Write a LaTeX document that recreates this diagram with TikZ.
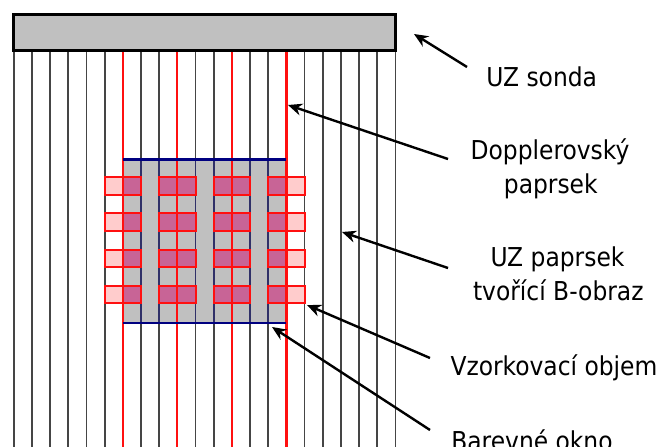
\documentclass[tikz,border=0pt]{standalone}
\usepackage{fontspec}
\setmainfont{DejaVu Sans Condensed}
\usetikzlibrary{arrows.meta}
\definecolor{probegray}{HTML}{C0C0C0}
\definecolor{linegray}{HTML}{454545}
\definecolor{winnavy}{HTML}{000080}
\definecolor{winline}{HTML}{303068}
\definecolor{svdark}{HTML}{C86496}
\definecolor{svlight}{HTML}{FFCCCC}
\definecolor{beamred}{HTML}{FF1010}
\tikzset{
  bline/.style={draw=linegray, line width=1.8pt},
  dline/.style={draw=beamred, line width=2.2pt},
  svbox/.style={draw=beamred, line width=2pt},
  pointer/.style={draw=black, line width=2.4pt, -{Stealth[length=14pt,width=12pt]}},
  lbl/.style={anchor=base, inner sep=0pt, font=\fontsize{26}{34}\selectfont}
}
\begin{document}
\begin{tikzpicture}[x=1pt,y=-1pt]
\useasboundingbox (0,0) rectangle (667,447);
\clip (0,0) rectangle (667,447);
\fill[white] (0,0) rectangle (667,447);
% colour window background
\fill[probegray] (122.8,159.3) rectangle (286.3,322.7);
% B-mode beams
\foreach \i in {0,...,21}{
  \draw[bline] ({13.7+18.18*\i},51) -- ({13.7+18.18*\i},447);
}
\foreach \i in {7,8,10,11,13,14}{
  \draw[draw=winline, line width=1.8pt] ({13.7+18.18*\i},159.3) -- ({13.7+18.18*\i},322.7);
}
% sample volumes
\foreach \k in {0,1,2,3}{
  \foreach \c/\col in {5/svlight,6/svdark,8/svdark,9/svdark,11/svdark,12/svdark,14/svdark,15/svlight}{
    \filldraw[svbox, fill=\col] ({13.7+18.18*\c},{177.3+36.1*\k}) rectangle ({13.7+18.18*(\c+1)},{195.1+36.1*\k});
  }
}
% Doppler beams
\foreach \i in {6,9,12,15}{
  \draw[dline] ({13.7+18.18*\i},51) -- ({13.7+18.18*\i},447);
}
% window top/bottom borders
\draw[draw=winnavy, line width=2.4pt] (122.8,159.3) -- (286.3,159.3);
\draw[draw=winnavy, line width=2.4pt] (122.8,322.7) -- (286.3,322.7);
% probe
\node[draw=black, line width=3.2pt, fill=probegray, minimum width=382pt, minimum height=36pt, inner sep=0pt] (probe) at (204.5,32.5) {};
% labels
\node[lbl] (sonda) at (541.7,86) {UZ sonda};
\node[lbl] (dop1) at (550,159.3) {Dopplerovský};
\node[lbl] (dop2) at (550.8,193) {paprsek};
\node[lbl] (uz1) at (557.5,266) {UZ paprsek};
\node[lbl] (uz2) at (558.3,300) {tvořící B-obraz};
\node[lbl] (vzor) at (554,375) {Vzorkovací objem};
\node[lbl] (bar) at (532,450) {Barevné okno};
% arrow ends
\coordinate (tSonda) at (414,34);   \coordinate (sSonda) at (467,67);
\coordinate (tDop) at (288,105);    \coordinate (sDop) at (448,159);
\coordinate (tUz) at (342,232);     \coordinate (sUz) at (448,268);
\coordinate (tVzor) at (307,305);   \coordinate (sVzor) at (430,358);
\coordinate (tBar) at (272,327);    \coordinate (sBar) at (430,430);
\draw[pointer] (sSonda) -- (tSonda);
\draw[pointer] (sDop) -- (tDop);
\draw[pointer] (sUz) -- (tUz);
\draw[pointer] (sVzor) -- (tVzor);
\draw[pointer] (sBar) -- (tBar);
\end{tikzpicture}
\end{document}
